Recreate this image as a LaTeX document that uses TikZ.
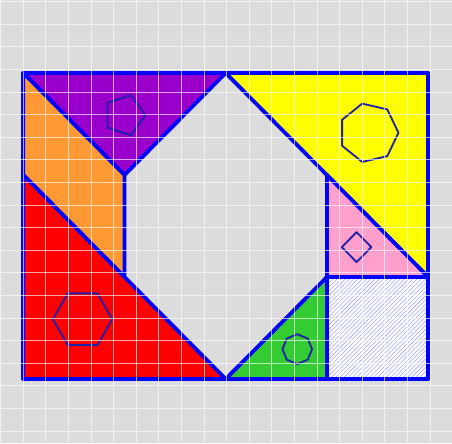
\documentclass[tikz,border=0pt]{standalone}
\definecolor{tgback}{HTML}{DCDCDC}
\definecolor{tgpurple}{HTML}{9900CC}
\definecolor{tgorange}{HTML}{FF9933}
\definecolor{tgred}{HTML}{FF0000}
\definecolor{tgyellow}{HTML}{FFFF00}
\definecolor{tgpink}{HTML}{FF9FCC}
\definecolor{tggreen}{HTML}{33CC33}
\definecolor{tgnavy}{HTML}{2020A8}
\usepackage{tikz}
\usetikzlibrary{patterns}

\begin{document}
\begin{tikzpicture}[
  piece/.style={draw=blue, line width=2.7pt, line join=round},
  inpoly/.style={draw=tgnavy, line width=1.3pt, line join=round},
  gridline/.style={white, line width=0.75pt, opacity=0.65},
]
  \fill[tgback] (0,0) rectangle (11.3,11.075);
  \useasboundingbox (0,0) rectangle (11.3,11.075);

  \begin{scope}[xshift=0.5825cm, yshift=1.6cm, x=1.265cm, y=1.275cm]
    % pieces
    \filldraw[piece, fill=tgpurple] (0,6) -- (4,6) -- (2,4) -- cycle;
    \filldraw[piece, fill=tgorange] (0,6) -- (2,4) -- (2,2) -- (0,4) -- cycle;
    \filldraw[piece, fill=tgred] (0,4) -- (4,0) -- (0,0) -- cycle;
    \filldraw[piece, fill=tgyellow] (4,6) -- (8,6) -- (8,2) -- cycle;
    \filldraw[piece, fill=tgpink] (6,4) -- (8,2) -- (6,2) -- cycle;
    \filldraw[piece, fill=tggreen] (4,0) -- (6,2) -- (6,0) -- cycle;
    \fill[white] (6,0) rectangle (8,2);
    \fill[pattern=north east lines, pattern color=blue!35] (6,0) rectangle (8,2);
    \draw[piece] (6,0) rectangle (8,2);
    \draw[piece] (0,0) rectangle (8,6);

    % inner polygons at the incentres
    \foreach \cx/\cy/\rr/\n in {2/5.172/0.414/5, 6.828/4.828/0.586/7,
        1.172/1.172/0.586/6, 6.586/2.586/0.293/4, 5.414/0.586/0.293/8}
      \draw[inpoly] ({\cx+\rr},\cy)
        \foreach \k in {1,...,\n} { -- ({\cx+\rr*cos(360*\k/\n)},{\cy+\rr*sin(360*\k/\n)}) }
        -- cycle;
  \end{scope}

  \foreach \i in {0,...,19} {
    \draw[gridline] ({0.0175+0.565*\i},0) -- ++(0,11.075);
    \draw[gridline] (0,{11.0325-0.565*\i}) -- ++(11.3,0);
  }
\end{tikzpicture}
\end{document}
